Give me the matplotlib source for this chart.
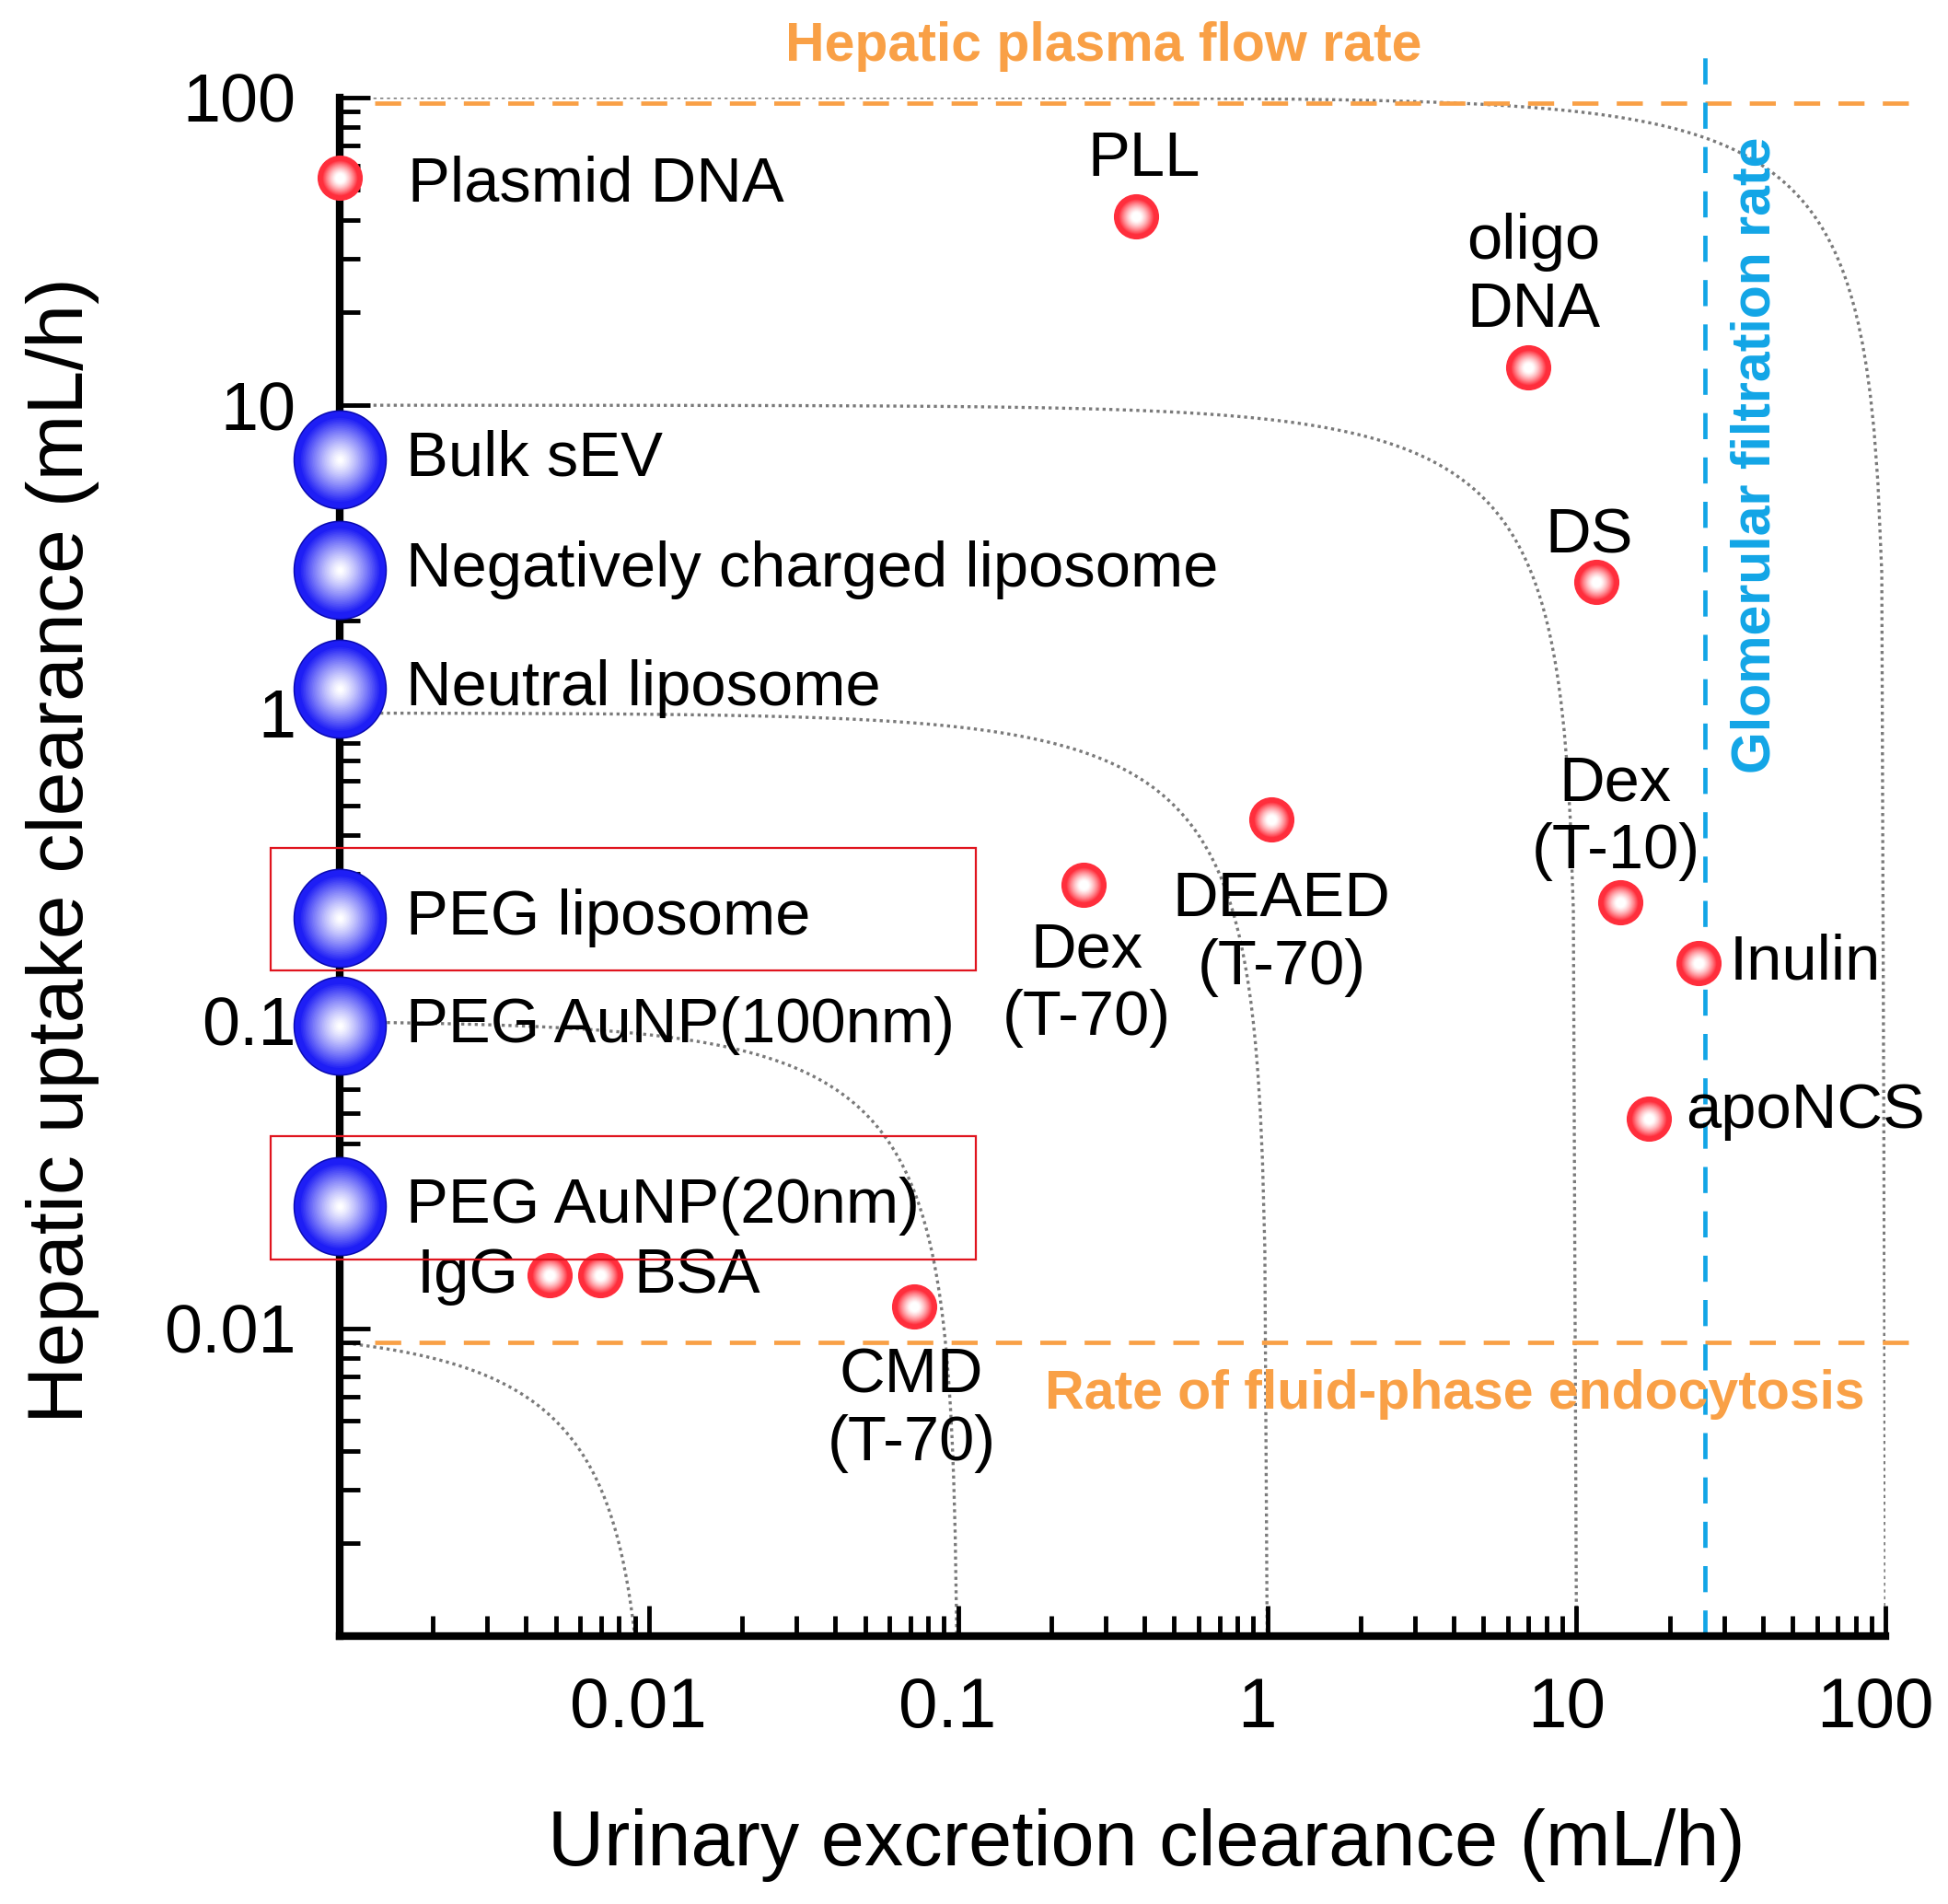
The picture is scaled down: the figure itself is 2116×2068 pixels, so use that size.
import numpy as np
import matplotlib
matplotlib.use("Agg")
import matplotlib.pyplot as plt
from matplotlib.path import Path
from matplotlib.patches import Rectangle
from matplotlib.ticker import FixedLocator, LogLocator, NullFormatter
import matplotlib.transforms as mtransforms

plt.rcParams['font.family'] = ['Liberation Sans', 'DejaVu Sans']

# small molecules / macromolecules (red dots)
red_names = ['Plasmid DNA', 'PLL', 'oligo\nDNA', 'DS', 'Dex\n(T-10)', 'Inulin', 'apoNCS',
             'DEAED\n(T-70)', 'Dex\n(T-70)', 'CMD\n(T-70)', 'IgG', 'BSA']
red_x = [0.001, 0.377, 7.0, 11.6, 13.9, 24.8, 17.1, 1.03, 0.255, 0.072, 0.00477, 0.00698]
red_y = [55, 41, 13.3, 2.66, 0.243, 0.154, 0.048, 0.45, 0.277, 0.0118, 0.0149, 0.0149]
# label offsets (points) and alignment
red_off = [(53, -6), (6, 45), (4, 71), (-6, 36), (-4, 66), (24, 0), (29, 6),
           (8, -89), (2, -78), (-2, -81), (-24, -1), (26, -1)]
red_ha = ['left', 'center', 'center', 'center', 'center', 'left', 'left',
          'center', 'center', 'center', 'right', 'left']

# nanoparticles (blue spheres) - urinary clearance ~ 0
blue_names = ['Bulk sEV', 'Negatively charged liposome', 'Neutral liposome', 'PEG liposome',
              'PEG AuNP(100nm)', 'PEG AuNP(20nm)']
blue_x = [0.001, 0.001, 0.001, 0.001, 0.001, 0.001]
blue_y = [6.67, 2.92, 1.2, 0.216, 0.096, 0.0249]
highlight = ['PEG liposome', 'PEG AuNP(20nm)']

total_cl = [0.01, 0.1, 1, 10, 100]   # iso total clearance curves
hepatic_flow = 96
fluid_endo = 0.009
gfr = 26

xticks = [0.01, 0.1, 1, 10, 100]
yticks = [0.01, 0.1, 1, 10, 100]
tick_labels = ['0.01', '0.1', '1', '10', '100']

orange = '#F9A046'
cyan = '#12A5E6'


def sphere(ax, x, y, s, rim, marker='o', n=30, soft=1.6, start=0.2, top=0.85, edge=None):
    rim = np.array(matplotlib.colors.to_rgb(rim))
    white = np.ones(3)
    if edge is not None:
        ax.scatter(x, y, s=s * 1.06, color=edge, marker=marker, linewidths=0,
                   zorder=4.9, clip_on=False)
    for k in range(n):
        t = 1 - k / n
        w = min(1.0, max(0.0, (t - start) / (top - start))) ** soft
        col = (1 - w) * white + w * rim
        ax.scatter(x, y, s=s * t ** 2, color=col, marker=marker, linewidths=0,
                   zorder=5 + k * 0.01, clip_on=False)


fig = plt.figure(figsize=(21.16, 20.68), dpi=100)
ax = fig.add_axes([0.1744, 0.1407, 0.7936, 0.8081])
ax.set_xscale('log')
ax.set_yscale('log')
ax.set_xlim(1e-3, 1e2)
ax.set_ylim(1e-3, 1e2)

# iso-clearance curves
for c in total_cl:
    xs = np.logspace(-3, np.log10(c - 0.001), 400)
    ys = c - xs
    ax.plot(xs, ys, color='#7a7a7a', lw=2.4, linestyle=(0, (1, 1.2)), zorder=1)

# reference lines
ax.plot([0.0013, 128], [hepatic_flow, hepatic_flow], color=orange, lw=3.4,
        linestyle=(0, (6, 4.2)), clip_on=False, zorder=2)
ax.plot([0.0013, 128], [fluid_endo, fluid_endo], color=orange, lw=3.4,
        linestyle=(0, (6, 4.2)), clip_on=False, zorder=2)
ax.plot([gfr, gfr], [1e-3, 135], color=cyan, lw=3.4,
        linestyle=(0, (6, 4.2)), clip_on=False, zorder=2)

ax.text(0.296, 146, 'Hepatic plasma flow rate', color=orange, fontsize=42.5,
        fontweight='bold', ha='center', va='center', clip_on=False)
ax.text(4.05, 0.0061, 'Rate of fluid-phase endocytosis', color=orange, fontsize=42.5,
        fontweight='bold', ha='center', va='center')
ax.text(38, 6.9, 'Glomerular filtration rate', color=cyan, fontsize=42.5,
        fontweight='bold', ha='center', va='center', rotation=90)

# red markers + labels
for name, x, y, off, ha in zip(red_names, red_x, red_y, red_off, red_ha):
    sphere(ax, x, y, 1250, '#FF2E3C', soft=1.3, start=0.2, top=0.8)
    ax.annotate(name, (x, y), xytext=off, textcoords='offset points', ha=ha,
                va='center', fontsize=49.5, linespacing=1.2, zorder=6)

# blue spheres (slightly taller than wide)
theta = np.linspace(0, 2 * np.pi, 80)
ell = Path(np.column_stack([0.94 * np.cos(theta), np.sin(theta)]), closed=True)
for name, x, y in zip(blue_names, blue_x, blue_y):
    sphere(ax, x, y, 5700, '#1E1EF5', marker=ell, soft=1.2, start=0.05, top=0.9,
           edge='#0a0ab0')
    ax.annotate(name, (x, y), xytext=(52, 0), textcoords='offset points', ha='left',
                va='center', fontsize=49.5, zorder=6)
    if name in highlight:
        tr = mtransforms.blended_transform_factory(ax.transAxes, ax.transData)
        lo, hi = y * 10 ** -0.172, y * 10 ** 0.228
        ax.add_patch(Rectangle((-0.0444, lo), 0.4556, hi - lo,
                               transform=tr, fill=False, edgecolor='#E0141E', lw=1.6,
                               clip_on=False, zorder=6))

# axes styling
for side in ['top', 'right']:
    ax.spines[side].set_visible(False)
for side in ['left', 'bottom']:
    ax.spines[side].set_linewidth(6)
ax.xaxis.set_major_locator(FixedLocator(xticks))
ax.yaxis.set_major_locator(FixedLocator(yticks))
ax.set_xticklabels(tick_labels)
ax.set_yticklabels(tick_labels)
ax.xaxis.set_minor_locator(LogLocator(base=10, subs=np.arange(2, 10), numticks=20))
ax.yaxis.set_minor_locator(LogLocator(base=10, subs=np.arange(2, 10), numticks=20))
ax.xaxis.set_minor_formatter(NullFormatter())
ax.yaxis.set_minor_formatter(NullFormatter())
ax.tick_params(which='major', direction='in', length=24, width=3.5, labelsize=53, pad=34)
ax.tick_params(which='minor', direction='in', length=16, width=3.5)
ax.tick_params(axis='x', which='major', labelsize=55, pad=32)

# x tick labels sit a little left of their ticks in the original
shift = mtransforms.ScaledTranslation(-8 / 72, 0, fig.dpi_scale_trans)
for lab in ax.get_xticklabels():
    lab.set_transform(lab.get_transform() + shift)

ax.set_xlabel('Urinary excretion clearance (mL/h)', fontsize=61, va='center')
ax.xaxis.set_label_coords(0.522, -0.1356)
ax.set_ylabel('Hepatic uptake clearance (mL/h)', fontsize=62, va='center')
ax.yaxis.set_label_coords(-0.179, 0.511)

fig.savefig('out.png', dpi=100)
